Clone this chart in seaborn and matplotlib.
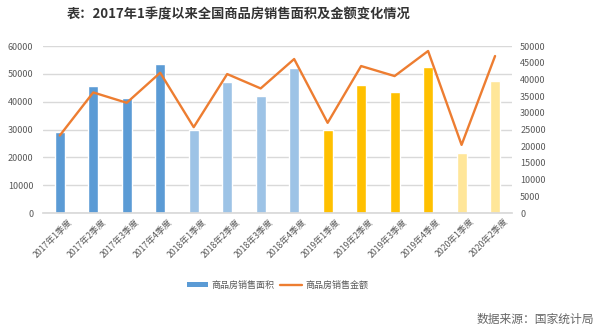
import matplotlib
matplotlib.use("Agg")
import matplotlib.pyplot as plt
import matplotlib.transforms as mtransforms
from matplotlib.patches import Patch
from matplotlib.lines import Line2D
import numpy as np
import pandas as pd
import seaborn as sns

quarters = ["2017年1季度", "2017年2季度", "2017年3季度", "2017年4季度",
            "2018年1季度", "2018年2季度", "2018年3季度", "2018年4季度",
            "2019年1季度", "2019年2季度", "2019年3季度", "2019年4季度",
            "2020年1季度", "2020年2季度"]
area = [29000, 45600, 41300, 53400, 30000, 47100, 42200, 52200,
        29700, 46100, 43400, 52400, 21700, 47300]
amount = [23200, 36100, 33000, 42000, 25700, 41600, 37300, 46100,
          27000, 44000, 41000, 48500, 20400, 47000]
bar_colors = ["#5B9BD5"] * 4 + ["#9DC3E6"] * 4 + ["#FFC000"] * 4 + ["#FFE699"] * 2
left_ticks = list(range(0, 60001, 10000))
right_ticks = list(range(0, 50001, 5000))

sns.set_theme(style="white")
plt.rcParams["font.family"] = ["Noto Sans CJK SC", "DejaVu Sans"]

df = pd.DataFrame({"quarter": quarters, "area": area, "amount": amount})

fig = plt.figure(figsize=(6.0, 3.3), dpi=100)
ax = fig.add_axes([0.0717, 0.3545, 0.853 - 0.0717, 0.8606 - 0.3545])

sns.barplot(data=df, x="quarter", y="area", hue="quarter", palette=bar_colors,
            legend=False, width=0.3, ax=ax, saturation=1)
ax.set_ylim(0, 60000)
ax.set_yticks(left_ticks)
ax.yaxis.grid(True, color="#D9D9D9", linewidth=1)
ax.set_axisbelow(True)
ax.set_xlim(-0.5, len(quarters) - 0.5)
ax.set_xlabel("")
ax.set_ylabel("")
for s in ["top", "right", "left"]:
    ax.spines[s].set_visible(False)
ax.spines["bottom"].set_color("#D9D9D9")
ax.tick_params(axis="y", length=0, labelsize=6.5, labelcolor="#595959", pad=7)
ax.tick_params(axis="x", length=0, labelsize=6.3, labelcolor="#595959", pad=3)
offset = mtransforms.ScaledTranslation(8 / 100, 0, fig.dpi_scale_trans)
for lab in ax.get_xticklabels():
    lab.set_rotation(45)
    lab.set_ha("right")
    lab.set_rotation_mode("anchor")
    lab.set_transform(lab.get_transform() + offset)

ax2 = ax.twinx()
sns.lineplot(x=np.arange(len(quarters)), y=amount, color="#ED7D31",
             linewidth=1.7, ax=ax2)
ax2.set_ylim(0, 50000)
ax2.set_yticks(right_ticks)
ax2.set_ylabel("")
for s in ["top", "right", "left", "bottom"]:
    ax2.spines[s].set_visible(False)
ax2.tick_params(axis="y", length=0, labelsize=6.5, labelcolor="#595959", pad=6)
ax2.grid(False)

fig.text(0.397, 0.955, "表：2017年1季度以来全国商品房销售面积及金额变化情况",
         ha="center", va="center", fontsize=9.5, fontweight="bold", color="#333333")

handles = [Patch(facecolor="#5B9BD5", edgecolor="none"),
           Line2D([0], [0], color="#ED7D31", linewidth=1.7)]
fig.legend(handles, ["商品房销售面积", "商品房销售金额"], loc="center",
           bbox_to_anchor=(0.4625, 0.136), ncol=2, frameon=False,
           fontsize=6.5, labelcolor="#595959", handlelength=2.4,
           handleheight=0.5, columnspacing=0.6, handletextpad=0.4)

fig.text(0.99, 0.033, "数据来源：国家统计局", ha="right", va="center",
         fontsize=8.5, color="#666666")

fig.savefig("out.png", dpi=100)
